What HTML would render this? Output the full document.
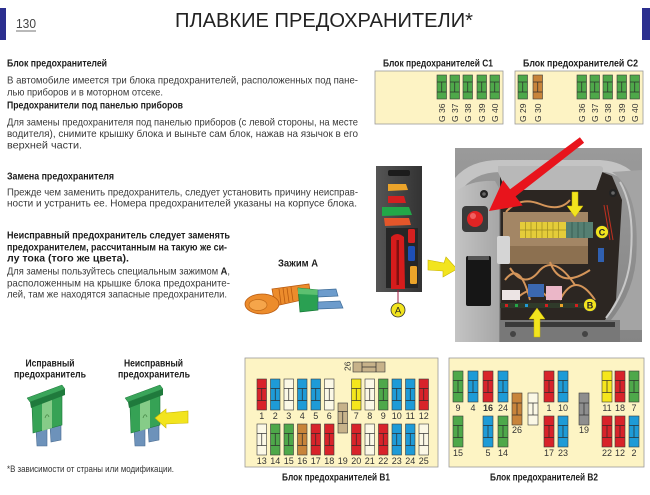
<!DOCTYPE html>
<html><head><meta charset="utf-8"><style>
html,body{margin:0;padding:0;background:#fff;}
svg{display:block;}
text{font-family:"Liberation Sans",Arial,sans-serif;}
.t{font-size:10.5px;fill:#3a3a3a;}
.b{font-size:10.5px;font-weight:bold;fill:#1c1c1c;}
.n{font-size:9px;fill:#333;}
.g{font-size:8.5px;fill:#333;}
</style></head><body>
<svg width="650" height="495" viewBox="0 0 650 495" xmlns="http://www.w3.org/2000/svg">
<defs>
<g id="lB" stroke="#2a2a2a" stroke-width="0.7" fill="none"><line x1="0" y1="9.5" x2="9.5" y2="9.5"/><line x1="0" y1="21.5" x2="9.5" y2="21.5"/><line x1="4.75" y1="9.5" x2="4.75" y2="21.5"/></g>
<g id="lC" stroke="#2a2a2a" stroke-width="0.7" fill="none"><line x1="0" y1="7" x2="9.5" y2="7"/><line x1="0" y1="17" x2="9.5" y2="17"/><line x1="4.75" y1="7" x2="4.75" y2="17"/></g>
<linearGradient id="gp" x1="0" y1="0" x2="0" y2="1"><stop offset="0" stop-color="#9a9a9a"/><stop offset="1" stop-color="#858585"/></linearGradient>
<linearGradient id="gl" x1="0" y1="0" x2="1" y2="0"><stop offset="0" stop-color="#c4c4c4"/><stop offset="1" stop-color="#a6a6a6"/></linearGradient>
<linearGradient id="gc" x1="0" y1="0" x2="1" y2="0"><stop offset="0" stop-color="#555"/><stop offset="1" stop-color="#333"/></linearGradient>
</defs>

<!-- header -->
<rect x="0" y="8" width="6" height="32" fill="#2b2f8f"/>
<rect x="642" y="8" width="8" height="32" fill="#2b2f8f"/>
<text x="16" y="28" font-size="13" fill="#444" textLength="20" lengthAdjust="spacingAndGlyphs">130</text>
<line x1="16" y1="31" x2="36" y2="31" stroke="#444" stroke-width="0.8"/>
<text x="175" y="27" font-size="20" fill="#222" textLength="298" lengthAdjust="spacingAndGlyphs">ПЛАВКИЕ ПРЕДОХРАНИТЕЛИ*</text>

<!-- left text -->
<text class="b" x="7" y="66.5" textLength="100" lengthAdjust="spacingAndGlyphs">Блок предохранителей</text>
<text class="t" x="7" y="83.5" textLength="351" lengthAdjust="spacingAndGlyphs">В автомобиле имеется три блока предохранителей, расположенных под пане-</text>
<text class="t" x="7" y="95.5" textLength="156" lengthAdjust="spacingAndGlyphs">лью приборов и в моторном отсеке.</text>
<text class="b" x="7" y="108.5" textLength="176" lengthAdjust="spacingAndGlyphs">Предохранители под панелью приборов</text>
<text class="t" x="7" y="125.5" textLength="351" lengthAdjust="spacingAndGlyphs">Для замены предохранителя под панелью приборов (с левой стороны, на месте</text>
<text class="t" x="7" y="137" textLength="351" lengthAdjust="spacingAndGlyphs">водителя), снимите крышку блока и выньте сам блок, нажав на язычок в его</text>
<text class="t" x="7" y="148.5" textLength="75" lengthAdjust="spacingAndGlyphs">верхней части.</text>
<text class="b" x="7" y="179.5" textLength="107" lengthAdjust="spacingAndGlyphs">Замена предохранителя</text>
<text class="t" x="7" y="195.5" textLength="351" lengthAdjust="spacingAndGlyphs">Прежде чем заменить предохранитель, следует установить причину неисправ-</text>
<text class="t" x="7" y="206.5" textLength="350" lengthAdjust="spacingAndGlyphs">ности и устранить ее. Номера предохранителей указаны на корпусе блока.</text>
<text class="b" x="7" y="238.5" textLength="223" lengthAdjust="spacingAndGlyphs">Неисправный предохранитель следует заменять</text>
<text class="b" x="7" y="250.5" textLength="220" lengthAdjust="spacingAndGlyphs">предохранителем, рассчитанным на такую же си-</text>
<text class="b" x="7" y="261.5" textLength="122" lengthAdjust="spacingAndGlyphs">лу тока (того же цвета).</text>
<text class="t" x="7" y="274.5" textLength="223" lengthAdjust="spacingAndGlyphs">Для замены пользуйтесь специальным зажимом <tspan font-weight="bold" fill="#1c1c1c">А</tspan>,</text>
<text class="t" x="7" y="286.5" textLength="223" lengthAdjust="spacingAndGlyphs">расположенным на крышке блока предохраните-</text>
<text class="t" x="7" y="297.5" textLength="220" lengthAdjust="spacingAndGlyphs">лей, там же находятся запасные предохранители.</text>

<!-- clamp A -->
<text class="b" x="278" y="266.5" textLength="40" lengthAdjust="spacingAndGlyphs">Зажим А</text>
<g>
<path d="M272 289 L309 284 L311 298 L275 306 Z" fill="#ec8c2c" stroke="#b85a10" stroke-width="0.8"/>
<ellipse cx="262" cy="304" rx="17" ry="10" fill="#ec8c2c" stroke="#b85a10" stroke-width="0.8"/>
<ellipse cx="258" cy="305" rx="9" ry="5.5" fill="#f5a54a" stroke="#c06a18" stroke-width="0.7"/>
<g stroke="#b85a10" stroke-width="0.8"><line x1="279" y1="289" x2="281" y2="304"/><line x1="283" y1="288" x2="285" y2="303"/><line x1="287" y1="288" x2="289" y2="302"/><line x1="291" y1="287" x2="293" y2="301"/></g>
<path d="M298 288 L318 290 L318 310 L300 312 Z" fill="#2aa052" stroke="#157a35" stroke-width="0.7"/>
<path d="M298 288 L318 290 L318 295 L298 294 Z" fill="#5cc070"/>
<path d="M318 290 L336 289 L338 296 L318 297 Z" fill="#6d9ccc" stroke="#3e6c98" stroke-width="0.7"/>
<path d="M318 302 L340 301 L343 308 L318 309 Z" fill="#6d9ccc" stroke="#3e6c98" stroke-width="0.7"/>
</g>

<!-- C1 / C2 -->
<text class="b" x="383" y="66.5" textLength="110" lengthAdjust="spacingAndGlyphs">Блок предохранителей C1</text>
<text class="b" x="523" y="66.5" textLength="115" lengthAdjust="spacingAndGlyphs">Блок предохранителей C2</text>
<rect x="375" y="71" width="128" height="53" fill="#fdf3c4" stroke="#9a9a9a" stroke-width="0.8"/>
<rect x="515" y="71" width="128" height="53" fill="#fdf3c4" stroke="#9a9a9a" stroke-width="0.8"/>
<g stroke="#3a3a3a" stroke-width="0.6">
<rect x="437" y="75" width="9.5" height="24" fill="#4ea84a"/>
<rect x="450" y="75" width="9.5" height="24" fill="#4ea84a"/>
<rect x="463" y="75" width="9.5" height="24" fill="#4ea84a"/>
<rect x="477" y="75" width="9.5" height="24" fill="#4ea84a"/>
<rect x="490" y="75" width="9.5" height="24" fill="#4ea84a"/>
<rect x="518" y="75" width="9.5" height="24" fill="#4ea84a"/>
<rect x="533" y="75" width="9.5" height="24" fill="#c8843a"/>
<rect x="577" y="75" width="9.5" height="24" fill="#4ea84a"/>
<rect x="590" y="75" width="9.5" height="24" fill="#4ea84a"/>
<rect x="603" y="75" width="9.5" height="24" fill="#4ea84a"/>
<rect x="617" y="75" width="9.5" height="24" fill="#4ea84a"/>
<rect x="630" y="75" width="9.5" height="24" fill="#4ea84a"/>
</g>
<use href="#lC" x="437" y="75"/><use href="#lC" x="450" y="75"/><use href="#lC" x="463" y="75"/><use href="#lC" x="477" y="75"/><use href="#lC" x="490" y="75"/>
<use href="#lC" x="518" y="75"/><use href="#lC" x="533" y="75"/><use href="#lC" x="577" y="75"/><use href="#lC" x="590" y="75"/><use href="#lC" x="603" y="75"/><use href="#lC" x="617" y="75"/><use href="#lC" x="630" y="75"/>
<g class="g">
<text class="g" transform="translate(445,122) rotate(-90)">G 36</text>
<text class="g" transform="translate(458,122) rotate(-90)">G 37</text>
<text class="g" transform="translate(471,122) rotate(-90)">G 38</text>
<text class="g" transform="translate(485,122) rotate(-90)">G 39</text>
<text class="g" transform="translate(498,122) rotate(-90)">G 40</text>
<text class="g" transform="translate(526,122) rotate(-90)">G 29</text>
<text class="g" transform="translate(541,122) rotate(-90)">G 30</text>
<text class="g" transform="translate(585,122) rotate(-90)">G 36</text>
<text class="g" transform="translate(598,122) rotate(-90)">G 37</text>
<text class="g" transform="translate(611,122) rotate(-90)">G 38</text>
<text class="g" transform="translate(625,122) rotate(-90)">G 39</text>
<text class="g" transform="translate(638,122) rotate(-90)">G 40</text>
</g>

<!-- left cover photo -->
<rect x="376" y="166" width="46" height="126" fill="url(#gc)"/>
<rect x="388" y="170" width="22" height="6" rx="2" fill="#1c1c1c"/>
<path d="M388 184 L406 184 L408 190 L388 191 Z" fill="#eba42a"/>
<path d="M388 196 L404 196 L406 203 L388 203 Z" fill="#d42020"/>
<path d="M382 207 L409 207 L412 215 L382 216 Z" fill="#22a848"/>
<path d="M384 218 L409 218 L411 225 L385 226 Z" fill="#e4562a"/>
<rect x="386" y="228" width="32" height="60" fill="#262626"/>
<path d="M391 237 Q397 231 404 237 L405 289 L391 289 Z" fill="#d61c1c"/>
<rect x="396.5" y="240" width="2.5" height="45" fill="#801010"/>
<rect x="408" y="229" width="7" height="14" rx="1.5" fill="#d42020"/>
<rect x="408" y="246" width="7" height="15" rx="1.5" fill="#1e4fb8"/>
<rect x="410" y="266" width="7" height="18" rx="1.5" fill="#eba42a"/>
<line x1="398" y1="290" x2="398" y2="303" stroke="#a01840" stroke-width="1"/>
<circle cx="398" cy="310" r="7" fill="#f2e41e" stroke="#333" stroke-width="0.8"/>
<text x="398" y="313.5" font-size="9.5" text-anchor="middle" fill="#222">A</text>

<!-- yellow arrow to photo -->
<path d="M428 260 L444 263 L446 257 L457 269 L443 277 L443 271 L428 270 Z" fill="#f2e41e" stroke="#c8b400" stroke-width="0.6"/>

<!-- main photo -->
<rect x="455" y="148" width="187" height="194" fill="url(#gp)"/>
<path d="M455 178 Q470 160 500 160 L600 160 Q632 162 642 186 L642 204 Q628 176 605 172 L500 172 Q474 172 460 192 L455 196 Z" fill="#c4c4c4"/>
<path d="M500 176 L506 190 L596 190 L602 172 L612 176 L622 200 L616 300 L604 322 L500 322 Z" fill="#2c2622"/>
<path d="M498 166 L600 166 Q605 167 602 173 L596 190 L506 190 L498 172 Z" fill="#b8b8b8"/>
<path d="M455 192 Q470 180 495 181 L500 190 L500 342 L455 342 Z" fill="url(#gl)"/>
<line x1="500" y1="190" x2="500" y2="342" stroke="#6a6a6a" stroke-width="1"/>
<path d="M612 172 Q641 192 636 260 Q632 300 602 330 L642 330 L642 170 Z" fill="#a4a4a4"/>
<path d="M620 182 Q636 210 630 262 Q626 292 606 318" stroke="#c8c8c8" stroke-width="2" fill="none"/>
<rect x="500" y="320" width="120" height="22" fill="#787878"/>
<rect x="505" y="322" width="110" height="5" fill="#3a3a3a"/>
<circle cx="513" cy="334" r="3" fill="#444"/><circle cx="585" cy="334" r="3" fill="#444"/>
<circle cx="484" cy="194" r="4" fill="#222"/><circle cx="484" cy="194" r="1.8" fill="#666"/>
<circle cx="613" cy="193" r="4" fill="#222"/><circle cx="613" cy="193" r="1.8" fill="#666"/>
<rect x="462" y="206" width="26" height="26" rx="4" fill="#3a3a3a"/>
<circle cx="475" cy="219" r="8" fill="#e02424"/><circle cx="473" cy="216" r="3" fill="#f06060"/>
<rect x="466" y="256" width="25" height="50" rx="2" fill="#161616"/>
<rect x="468" y="256" width="21" height="4" fill="#555"/>
<!-- cavity contents -->
<rect x="503" y="212" width="85" height="52" fill="#a38665"/>
<rect x="503" y="246" width="85" height="18" fill="#8c7050"/>
<g stroke="#d4955a" fill="none" stroke-width="2">
<path d="M506 212 Q520 196 540 204 Q560 212 570 200"/>
<path d="M510 268 Q525 290 540 270 Q555 255 575 285"/>
<path d="M505 280 Q520 260 530 300"/>
<path d="M550 262 Q560 290 590 270"/>
<path d="M560 300 Q575 270 595 300"/>
<path d="M515 300 Q535 280 550 300"/>
</g>
<rect x="520" y="222" width="46" height="16" fill="#e4cc3a"/>
<g stroke="#9c8a20" stroke-width="0.7"><line x1="525.5" y1="222" x2="525.5" y2="238"/><line x1="531" y1="222" x2="531" y2="238"/><line x1="536.5" y1="222" x2="536.5" y2="238"/><line x1="542" y1="222" x2="542" y2="238"/><line x1="547.5" y1="222" x2="547.5" y2="238"/><line x1="553" y1="222" x2="553" y2="238"/><line x1="558.5" y1="222" x2="558.5" y2="238"/><line x1="520" y1="230" x2="566" y2="230"/></g>
<rect x="566" y="222" width="27" height="16" fill="#557f72"/>
<g stroke="#2f5248" stroke-width="0.7"><line x1="572" y1="222" x2="572" y2="238"/><line x1="578" y1="222" x2="578" y2="238"/><line x1="584" y1="222" x2="584" y2="238"/></g>
<rect x="497" y="236" width="13" height="28" rx="2" fill="#d5d5d5"/>
<rect x="528" y="284" width="16" height="13" fill="#3b68b0"/>
<rect x="546" y="286" width="16" height="14" fill="#ebb7c8"/>
<rect x="502" y="290" width="18" height="10" fill="#ece4e4"/>
<rect x="500" y="303" width="95" height="5" fill="#2f3a2a"/>
<g><rect x="505" y="304" width="3" height="3" fill="#d42020"/><rect x="515" y="304" width="3" height="3" fill="#22a848"/><rect x="525" y="304" width="3" height="3" fill="#1e9bd7"/><rect x="545" y="304" width="3" height="3" fill="#d42020"/><rect x="560" y="304" width="3" height="3" fill="#eba42a"/><rect x="575" y="304" width="3" height="3" fill="#d42020"/></g>
<rect x="598" y="248" width="6" height="14" fill="#3060b0"/>
<g stroke="#c03020" stroke-width="1"><line x1="604" y1="205" x2="610" y2="240"/><line x1="607" y1="205" x2="613" y2="240"/></g>
<!-- yellow arrows in photo -->
<path d="M572 192 L578 192 L578 206 L583 206 L575 217 L567 206 L572 206 Z" fill="#f2e41e" stroke="#c8b400" stroke-width="0.5"/>
<path d="M534 337 L540 337 L540 319 L545 319 L537 308 L529 319 L534 319 Z" fill="#f2e41e" stroke="#c8b400" stroke-width="0.5"/>
<circle cx="602" cy="232" r="6.5" fill="#f2e41e" stroke="#333" stroke-width="0.8"/>
<text x="602" y="235.5" font-size="9" font-weight="bold" text-anchor="middle" fill="#222">C</text>
<circle cx="590" cy="305" r="6.5" fill="#f2e41e" stroke="#333" stroke-width="0.8"/>
<text x="590" y="308.5" font-size="9" font-weight="bold" text-anchor="middle" fill="#222">B</text>
<!-- red arrow -->
<path d="M579.9 137.2 L510.1 189.2 L503.1 180.1 L489 211 L522.6 205.5 L515.6 196.4 L584.1 142.8 Z" fill="#e8141c"/>

<!-- bottom-left fuses -->
<text class="b" x="50" y="366.5" text-anchor="middle" textLength="49" lengthAdjust="spacingAndGlyphs">Исправный</text>
<text class="b" x="50" y="377.5" text-anchor="middle" textLength="72" lengthAdjust="spacingAndGlyphs">предохранитель</text>
<text class="b" x="153.5" y="366.5" text-anchor="middle" textLength="59" lengthAdjust="spacingAndGlyphs">Неисправный</text>
<text class="b" x="154" y="377.5" text-anchor="middle" textLength="72" lengthAdjust="spacingAndGlyphs">предохранитель</text>
<g id="fz">
<path d="M36 430 L47 427 L47 446 L37 446 Z" fill="#6d92ba" stroke="#4a6c90" stroke-width="0.6"/>
<path d="M50 426 L61 423 L61 440 L51 442 Z" fill="#6d92ba" stroke="#4a6c90" stroke-width="0.6"/>
<path d="M32 406 L62 395 L62 425 L33 433 Z" fill="#36a255" stroke="#1f7a3c" stroke-width="0.6"/>
<path d="M42 403 L52 399 L52 428 L42 431 Z" fill="#86cc88"/>
<path d="M45 418 Q47 412 49 417" stroke="#4a8a4a" stroke-width="0.8" fill="none"/>
<path d="M27 398 L62 385 L65 389 L30 402 Z" fill="#3aa55a" stroke="#1f7a3c" stroke-width="0.5"/>
<path d="M30 402 L65 389 L65 395 L31 408 Z" fill="#1f7a3c"/>
</g>
<use href="#fz" x="98" y="0"/>
<path d="M155 418 L166 409 L166 413 L188 411 L188 423 L166 424 L166 428 Z" fill="#f2e41e" stroke="#c8b400" stroke-width="0.6"/>
<text x="7" y="472" font-size="9" fill="#333" textLength="167" lengthAdjust="spacingAndGlyphs">*В зависимости от страны или модификации.</text>

<!-- B1 -->
<rect x="245" y="358" width="193" height="109" fill="#fdf4c4" stroke="#9a9a9a" stroke-width="0.8"/>
<g stroke="#3a3a3a" stroke-width="0.6">
<rect x="257" y="379" width="9.5" height="31" fill="#d8232a"/>
<rect x="270.5" y="379" width="9.5" height="31" fill="#1e9bd7"/>
<rect x="284" y="379" width="9.5" height="31" fill="#fbf8e6"/>
<rect x="297.5" y="379" width="9.5" height="31" fill="#1e9bd7"/>
<rect x="311" y="379" width="9.5" height="31" fill="#1e9bd7"/>
<rect x="324.5" y="379" width="9.5" height="31" fill="#fbf8e6"/>
<rect x="351.5" y="379" width="9.5" height="31" fill="#f5e61c"/>
<rect x="365" y="379" width="9.5" height="31" fill="#fbf8e6"/>
<rect x="378.5" y="379" width="9.5" height="31" fill="#4ea84a"/>
<rect x="392" y="379" width="9.5" height="31" fill="#1e9bd7"/>
<rect x="405.5" y="379" width="9.5" height="31" fill="#1e9bd7"/>
<rect x="419" y="379" width="9.5" height="31" fill="#d8232a"/>
<rect x="257" y="424" width="9.5" height="31" fill="#fbf8e6"/>
<rect x="270.5" y="424" width="9.5" height="31" fill="#4ea84a"/>
<rect x="284" y="424" width="9.5" height="31" fill="#4ea84a"/>
<rect x="297.5" y="424" width="9.5" height="31" fill="#c8843a"/>
<rect x="311" y="424" width="9.5" height="31" fill="#d8232a"/>
<rect x="324.5" y="424" width="9.5" height="31" fill="#d8232a"/>
<rect x="338" y="403" width="9.5" height="30" fill="#c7b28a"/>
<rect x="351.5" y="424" width="9.5" height="31" fill="#d8232a"/>
<rect x="365" y="424" width="9.5" height="31" fill="#fbf8e6"/>
<rect x="378.5" y="424" width="9.5" height="31" fill="#d8232a"/>
<rect x="392" y="424" width="9.5" height="31" fill="#1e9bd7"/>
<rect x="405.5" y="424" width="9.5" height="31" fill="#1e9bd7"/>
<rect x="419" y="424" width="9.5" height="31" fill="#fbf8e6"/>
<rect x="353" y="362" width="32" height="10" fill="#c7b28a"/>
</g>
<use href="#lB" x="257" y="379"/><use href="#lB" x="270.5" y="379"/><use href="#lB" x="284" y="379"/><use href="#lB" x="297.5" y="379"/><use href="#lB" x="311" y="379"/><use href="#lB" x="324.5" y="379"/><use href="#lB" x="351.5" y="379"/><use href="#lB" x="365" y="379"/><use href="#lB" x="378.5" y="379"/><use href="#lB" x="392" y="379"/><use href="#lB" x="405.5" y="379"/><use href="#lB" x="419" y="379"/>
<use href="#lB" x="257" y="424"/><use href="#lB" x="270.5" y="424"/><use href="#lB" x="284" y="424"/><use href="#lB" x="297.5" y="424"/><use href="#lB" x="311" y="424"/><use href="#lB" x="324.5" y="424"/><use href="#lB" x="338" y="402"/><use href="#lB" x="351.5" y="424"/><use href="#lB" x="365" y="424"/><use href="#lB" x="378.5" y="424"/><use href="#lB" x="392" y="424"/><use href="#lB" x="405.5" y="424"/><use href="#lB" x="419" y="424"/>
<g stroke="#2a2a2a" stroke-width="0.7"><line x1="362" y1="362" x2="362" y2="372"/><line x1="376" y1="362" x2="376" y2="372"/><line x1="362" y1="367" x2="376" y2="367"/></g>
<text class="g" transform="translate(350.5,371) rotate(-90)">26</text>
<g class="n" text-anchor="middle">
<text class="n" x="261.75" y="419">1</text><text class="n" x="275.25" y="419">2</text><text class="n" x="288.75" y="419">3</text><text class="n" x="302.25" y="419">4</text><text class="n" x="315.75" y="419">5</text><text class="n" x="329.25" y="419">6</text><text class="n" x="356.25" y="419">7</text><text class="n" x="369.75" y="419">8</text><text class="n" x="383.25" y="419">9</text><text class="n" x="396.75" y="419">10</text><text class="n" x="410.25" y="419">11</text><text class="n" x="423.75" y="419">12</text>
<text class="n" x="261.75" y="464">13</text><text class="n" x="275.25" y="464">14</text><text class="n" x="288.75" y="464">15</text><text class="n" x="302.25" y="464">16</text><text class="n" x="315.75" y="464">17</text><text class="n" x="329.25" y="464">18</text><text class="n" x="342.75" y="464">19</text><text class="n" x="356.25" y="464">20</text><text class="n" x="369.75" y="464">21</text><text class="n" x="383.25" y="464">22</text><text class="n" x="396.75" y="464">23</text><text class="n" x="410.25" y="464">24</text><text class="n" x="423.75" y="464">25</text>
</g>
<text class="b" x="282" y="480.5" textLength="108" lengthAdjust="spacingAndGlyphs">Блок предохранителей B1</text>

<!-- B2 -->
<rect x="449" y="358" width="195" height="109" fill="#fdf4c4" stroke="#9a9a9a" stroke-width="0.8"/>
<g stroke="#3a3a3a" stroke-width="0.6">
<rect x="453" y="371" width="10" height="31" fill="#4ea84a"/>
<rect x="468" y="371" width="10" height="31" fill="#1e9bd7"/>
<rect x="483" y="371" width="10" height="31" fill="#d8232a"/>
<rect x="498" y="371" width="10" height="31" fill="#1e9bd7"/>
<rect x="544" y="371" width="10" height="31" fill="#d8232a"/>
<rect x="558" y="371" width="10" height="31" fill="#1e9bd7"/>
<rect x="602" y="371" width="10" height="31" fill="#f5e61c"/>
<rect x="615" y="371" width="10" height="31" fill="#d8232a"/>
<rect x="629" y="371" width="10" height="31" fill="#4ea84a"/>
<rect x="512" y="393" width="10" height="32" fill="#c8843a"/>
<rect x="528" y="393" width="10" height="32" fill="#fbf8e6"/>
<rect x="579" y="393" width="10" height="32" fill="#8e8e8e"/>
<rect x="453" y="416" width="10" height="31" fill="#4ea84a"/>
<rect x="483" y="416" width="10" height="31" fill="#1e9bd7"/>
<rect x="498" y="416" width="10" height="31" fill="#4ea84a"/>
<rect x="544" y="416" width="10" height="31" fill="#d8232a"/>
<rect x="558" y="416" width="10" height="31" fill="#1e9bd7"/>
<rect x="602" y="416" width="10" height="31" fill="#d8232a"/>
<rect x="615" y="416" width="10" height="31" fill="#d8232a"/>
<rect x="629" y="416" width="10" height="31" fill="#1e9bd7"/>
</g>
<use href="#lB" x="453.25" y="371"/><use href="#lB" x="468.25" y="371"/><use href="#lB" x="483.25" y="371"/><use href="#lB" x="498.25" y="371"/><use href="#lB" x="544.25" y="371"/><use href="#lB" x="558.25" y="371"/><use href="#lB" x="602.25" y="371"/><use href="#lB" x="615.25" y="371"/><use href="#lB" x="629.25" y="371"/>
<use href="#lB" x="512.25" y="393.5"/><use href="#lB" x="528.25" y="393.5"/><use href="#lB" x="579.25" y="393.5"/>
<use href="#lB" x="453.25" y="416"/><use href="#lB" x="483.25" y="416"/><use href="#lB" x="498.25" y="416"/><use href="#lB" x="544.25" y="416"/><use href="#lB" x="558.25" y="416"/><use href="#lB" x="602.25" y="416"/><use href="#lB" x="615.25" y="416"/><use href="#lB" x="629.25" y="416"/>
<g class="n" text-anchor="middle">
<text class="n" x="458" y="411">9</text><text class="n" x="473" y="411">4</text><text class="n" x="488" y="411" font-weight="bold">16</text><text class="n" x="503" y="411">24</text><text class="n" x="549" y="411">1</text><text class="n" x="563" y="411">10</text><text class="n" x="607" y="411">11</text><text class="n" x="620" y="411">18</text><text class="n" x="634" y="411">7</text>
<text class="n" x="517" y="433">26</text><text class="n" x="584" y="433">19</text>
<text class="n" x="458" y="456">15</text><text class="n" x="488" y="456">5</text><text class="n" x="503" y="456">14</text><text class="n" x="549" y="456">17</text><text class="n" x="563" y="456">23</text><text class="n" x="607" y="456">22</text><text class="n" x="620" y="456">12</text><text class="n" x="634" y="456">2</text>
</g>
<text class="b" x="490" y="480.5" textLength="108" lengthAdjust="spacingAndGlyphs">Блок предохранителей B2</text>
</svg>
</body></html>
